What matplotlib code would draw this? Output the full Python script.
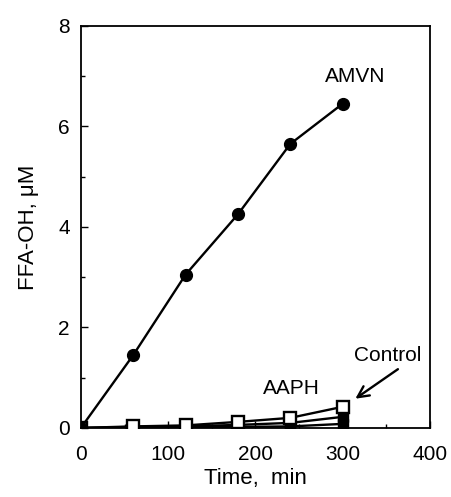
import matplotlib
matplotlib.use("Agg")
import matplotlib.pyplot as plt
from matplotlib.ticker import MultipleLocator

plt.rcParams['font.family'] = ['Liberation Sans', 'DejaVu Sans']

time_min = [0, 60, 120, 180, 240, 300]
amvn = [0.0, 1.45, 3.05, 4.25, 5.65, 6.45]
aaph = [0.0, 0.03, 0.05, 0.12, 0.20, 0.42]
aaph_mid = [0.0, 0.02, 0.03, 0.06, 0.10, 0.22]
control = [0.0, 0.0, 0.01, 0.02, 0.03, 0.08]

fig = plt.figure(figsize=(4.52, 4.97), dpi=100)
ax = fig.add_axes([0.179, 0.139, 0.772, 0.809])

ax.plot(time_min, control, '-s', color='black', lw=1.7, ms=7, mfc='black', zorder=3)
ax.plot(time_min, aaph_mid, '-s', color='black', lw=1.7, ms=7, mfc='black', zorder=3)
ax.plot(time_min, aaph, '-s', color='black', lw=1.7, ms=8, mfc='white', mew=1.7, zorder=4)
ax.plot(time_min, amvn, '-o', color='black', lw=1.7, ms=8.5, zorder=5)

ax.set_xlim(0, 400)
ax.set_ylim(0, 8)
ax.xaxis.set_major_locator(MultipleLocator(100))
ax.xaxis.set_minor_locator(MultipleLocator(50))
ax.yaxis.set_major_locator(MultipleLocator(2))
ax.yaxis.set_minor_locator(MultipleLocator(1))
ax.tick_params(which='both', direction='in', top=False, right=False, labelsize=15, width=1.0)
ax.tick_params(which='major', length=5)
ax.tick_params(which='minor', length=3)
ax.tick_params(axis='x', which='major', pad=12)
ax.tick_params(axis='y', which='major', pad=8)
for s in ax.spines.values():
    s.set_linewidth(1.3)

ax.set_xlabel('Time,  min', fontsize=16, labelpad=3)
ax.set_ylabel('FFA-OH, μM', fontsize=16, labelpad=14)

ax.text(314, 7.0, 'AMVN', fontsize=15, ha='center', va='center')
ax.text(241, 0.79, 'AAPH', fontsize=15, ha='center', va='center')
ax.text(352, 1.45, 'Control', fontsize=15, ha='center', va='center')
ax.annotate('', xy=(312, 0.55), xytext=(366, 1.2),
            arrowprops=dict(arrowstyle='->', color='black', lw=1.7, mutation_scale=20))

fig.savefig('out.png', dpi=100)
